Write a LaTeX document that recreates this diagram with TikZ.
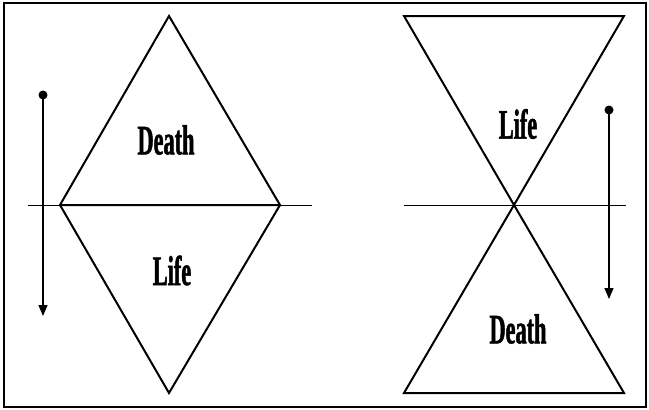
\documentclass[tikz,border=0pt]{standalone}
\usepackage{fontspec}
\newfontfamily\labfont[FakeStretch=0.53, FakeBold=1.2]{Liberation Serif Bold}
\usetikzlibrary{arrows.meta}
\tikzset{
  thick shape/.style={line width=2pt, line join=miter},
  axis/.style={line width=0.9pt},
  flow/.style={line width=1.3pt, -{Triangle[length=11pt,width=9pt]}},
  lab/.style={font=\labfont\fontsize{42}{42}\selectfont, inner sep=0pt},
  dotmark/.style={circle, fill=black, inner sep=0pt, minimum size=9pt}
}
\begin{document}
\begin{tikzpicture}[x=1pt,y=-1pt]
\useasboundingbox (0,0) rectangle (649,410);
\draw[line width=2pt] (4,3) rectangle (646,407);
% left diamond
\coordinate (lt) at (169,16);
\coordinate (ll) at (60,205);
\coordinate (lr) at (280,205);
\coordinate (lb) at (169,393);
\coordinate (lax1) at (28,205);
\coordinate (lax2) at (312,205);
\draw[axis] (lax1) -- (lax2);
\draw[thick shape] (ll) -- (lt) -- (lr) -- cycle;
\draw[thick shape] (ll) -- (lb) -- (lr);
\node[lab] (ldeath) at (166,140) {Death};
\node[lab] (llife) at (172,270.5) {Life};
\node[dotmark] (ldot) at (43,95) {};
\coordinate (lend) at (43,316);
\draw[flow] (ldot.center) -- (lend);
% right hourglass
\coordinate (rtl) at (404,16);
\coordinate (rtr) at (624,16);
\coordinate (rc) at (514,205);
\coordinate (rbl) at (404,393);
\coordinate (rbr) at (624,393);
\coordinate (rax1) at (404,205);
\coordinate (rax2) at (626,205);
\draw[axis] (rax1) -- (rax2);
\draw[thick shape] (rc) -- (rtl) -- (rtr) -- cycle;
\draw[thick shape] (rc) -- (rbl) -- (rbr) -- cycle;
\node[lab] (rlife) at (518,124) {Life};
\node[lab] (rdeath) at (518,329) {Death};
\node[dotmark] (rdot) at (609,110) {};
\coordinate (rend) at (609,299);
\draw[flow] (rdot.center) -- (rend);
\end{tikzpicture}
\end{document}
